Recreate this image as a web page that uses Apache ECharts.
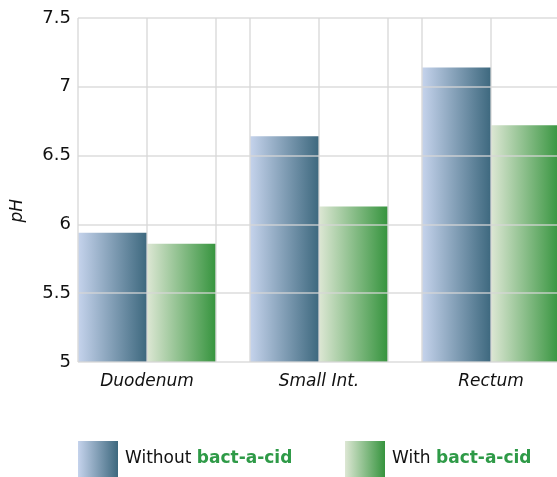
<!DOCTYPE html>
<html>
<head>
<meta charset="utf-8">
<script src="https://cdn.jsdelivr.net/npm/echarts@6/dist/echarts.min.js"></script>
<style>
  html, body { margin: 0; padding: 0; background: #fff; }
  #chart { width: 557px; height: 477px; }
</style>
</head>
<body>
<div id="chart"></div>
<script>
// Gut pH by region, with and without the supplement
const categories = ['Duodenum', 'Small Int.', 'Rectum'];
const brand = 'bact-a-cid';
const withoutValues = [5.94, 6.64, 7.14];
const withValues = [5.86, 6.13, 6.72];
const yMin = 5;
const yMax = 7.5;
const yStep = 0.5;
const yName = 'pH';

// Each category band is split into 5 slots: 2 bars of 2 slots each + 1 slot of gap.
// The background grid puts a vertical rule at every bar edge.
const slotsPerBand = 5;
const slotLabels = [];
for (let i = 0; i < categories.length * slotsPerBand; i++) slotLabels.push(String(i));

const FONT = 'DejaVu Sans';
const GRID_COLOR = 'rgba(214,214,214,0.85)';

const blueFill = new echarts.graphic.LinearGradient(0, 0, 1, 0, [
  { offset: 0, color: '#c5d3ec' },
  { offset: 1, color: '#3d687e' }
]);
const greenFill = new echarts.graphic.LinearGradient(0, 0, 1, 0, [
  { offset: 0, color: '#dde7d4' },
  { offset: 1, color: '#36943e' }
]);

const legendText = {
  fontFamily: FONT,
  fontSize: 17,
  color: '#111',
  rich: {
    a: { fontFamily: FONT, fontSize: 17, color: '#111', padding: [0, 0, 0, 2] },
    b: { fontFamily: FONT, fontSize: 17, color: '#2e9a47', fontWeight: 'bold' }
  }
};
const legendFormatter = name => {
  const plain = name.replace(' ' + brand, '');
  return '{a|' + plain + '} {b|' + brand + '}';
};

const chart = echarts.init(document.getElementById('chart'), null, { renderer: 'canvas' });
chart.setOption({
  animation: false,
  backgroundColor: '#fff',
  grid: [
    // background rules; the plot runs past the right edge of the canvas
    { left: 78, top: 18, width: 516, bottom: 115, outerBoundsMode: 'none' },
    // bars: bands start half a gap to the left so bars sit flush at the left rule
    { left: 61, top: 18, width: 516, bottom: 115, outerBoundsMode: 'none' }
  ],
  xAxis: [
    {
      type: 'category', gridIndex: 0, data: slotLabels, boundaryGap: true,
      z: 5,
      axisLine: { show: false }, axisTick: { show: false }, axisLabel: { show: false },
      splitLine: {
        show: true,
        interval: idx => [0, 2, 4].includes(idx % slotsPerBand),
        lineStyle: { color: GRID_COLOR, width: 1.5 }
      }
    },
    {
      type: 'category', gridIndex: 1, data: categories,
      axisLine: { show: false }, axisTick: { show: false },
      splitLine: { show: false },
      axisLabel: {
        margin: 11, fontFamily: FONT, fontStyle: 'italic', fontSize: 17, color: '#111'
      }
    }
  ],
  yAxis: [
    {
      type: 'value', gridIndex: 0, min: yMin, max: yMax, interval: yStep,
      z: 5,
      axisLine: { show: false }, axisTick: { show: false },
      axisLabel: { margin: 7, fontFamily: FONT, fontSize: 18, color: '#111' },
      splitLine: { show: true, lineStyle: { color: GRID_COLOR, width: 1.5 } }
    },
    {
      type: 'value', gridIndex: 1, min: yMin, max: yMax, interval: yStep,
      show: false, splitLine: { show: false }
    }
  ],
  legend: [
    {
      data: ['Without ' + brand], left: 78, top: 441, padding: 0,
      icon: 'rect', itemWidth: 40, itemHeight: 36,
      textStyle: legendText, formatter: legendFormatter, selectedMode: false
    },
    {
      data: ['With ' + brand], left: 345, top: 441, padding: 0,
      icon: 'rect', itemWidth: 40, itemHeight: 36,
      textStyle: legendText, formatter: legendFormatter, selectedMode: false
    }
  ],
  graphic: [
    {
      type: 'text', left: 9, top: 199, rotation: Math.PI / 2,
      style: {
        text: yName, fontFamily: FONT, fontStyle: 'italic', fontSize: 17, fill: '#111'
      }
    }
  ],
  series: [
    {
      name: 'Without ' + brand, type: 'bar', xAxisIndex: 1, yAxisIndex: 1,
      data: withoutValues, barGap: '0%', barCategoryGap: '20%',
      itemStyle: { color: blueFill }, emphasis: { disabled: true }
    },
    {
      name: 'With ' + brand, type: 'bar', xAxisIndex: 1, yAxisIndex: 1,
      data: withValues, barGap: '0%', barCategoryGap: '20%',
      itemStyle: { color: greenFill }, emphasis: { disabled: true }
    }
  ]
});
</script>
</body>
</html>
